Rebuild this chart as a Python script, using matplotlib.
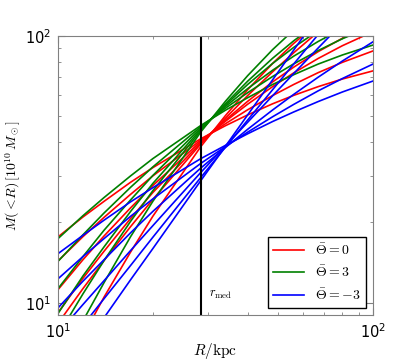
import matplotlib
matplotlib.use("Agg")
import matplotlib.pyplot as plt
from matplotlib.ticker import NullFormatter

plt.rcParams['mathtext.fontset'] = 'cm'
plt.rcParams['font.family'] = ['DejaVu Sans']

# radius grid (kpc)
R = [10, 12, 14, 17, 20, 28.4, 34, 40, 48, 56, 67, 80, 100]
r_med = 28.4

# M(<R) in 1e10 Msun, Theta = 0 (red)
red_curves = [
    [17.66, 20.97, 24.0, 28.3, 32.1, 41.2, 46.1, 50.6, 55.7, 59.9, 64.6, 69.0, 74.0],
    [14.35, 17.7, 20.9, 25.5, 29.9, 40.7, 46.9, 52.9, 59.8, 65.8, 72.9, 79.7, 87.9],
    [11.2, 14.5, 17.8, 22.7, 27.5, 40.3, 47.9, 55.5, 64.6, 72.7, 82.4, 92.0, 103.8],
    [9.18, 12.35, 15.6, 20.7, 25.9, 39.8, 48.4, 56.9, 67.3, 76.4, 87.4, 98.1, 110.9],
    [8.37, 11.3, 14.4, 19.3, 24.4, 39.4, 49.2, 59.8, 73.4, 86.5, 103.7, 122.5, 148.6],
    [4.95, 7.51, 10.5, 15.5, 21.1, 38.5, 50.3, 62.9, 78.9, 93.8, 112.1, 130.6, 153.1],
]
# Theta = 3 (green)
green_curves = [
    [17.4, 21.2, 24.8, 29.9, 34.7, 46.2, 52.7, 58.7, 65.8, 71.6, 78.5, 84.9, 92.5],
    [14.3, 17.98, 21.7, 27.1, 32.3, 45.7, 53.6, 61.3, 70.5, 78.6, 88.2, 97.7, 109.0],
    [11.3, 14.9, 18.7, 24.3, 30.0, 45.2, 54.4, 63.5, 74.4, 84.0, 95.4, 106.7, 120.0],
    [9.12, 12.6, 16.2, 22.0, 28.0, 44.7, 55.1, 65.8, 78.9, 90.6, 104.8, 118.9, 135.8],
    [7.56, 10.8, 14.4, 20.2, 26.3, 44.2, 55.7, 67.7, 82.5, 95.9, 112.2, 128.4, 148.0],
    [5.64, 8.56, 11.9, 17.7, 24.0, 43.7, 56.9, 71.0, 88.9, 105.3, 125.4, 145.4, 169.4],
]
# Theta = -3 (blue)
blue_curves = [
    [15.28, 17.9, 20.4, 23.9, 27.0, 34.7, 38.9, 43.0, 47.8, 51.9, 56.8, 61.7, 67.8],
    [12.3, 14.9, 17.4, 21.1, 24.5, 33.3, 38.5, 43.6, 49.8, 55.4, 62.3, 69.3, 78.5],
    [9.57, 12.05, 14.5, 18.3, 22.0, 32.0, 38.2, 44.7, 52.8, 60.4, 70.1, 80.6, 95.1],
    [7.69, 9.85, 12.1, 15.7, 19.45, 30.8, 38.7, 47.5, 59.7, 72.3, 90.2, 111.8, 146.0],
    [6.26, 8.23, 10.36, 13.8, 17.6, 29.5, 38.3, 48.4, 62.9, 78.5, 101.3, 130.2, 178.0],
    [5.0, 6.8, 8.79, 12.2, 15.96, 28.7, 38.6, 50.6, 68.5, 88.5, 119.3, 160.0, 232.0],
]
series = [
    (red_curves, 'red', r'$\bar{\Theta}=0$'),
    (green_curves, 'green', r'$\bar{\Theta}=3$'),
    (blue_curves, 'blue', r'$\bar{\Theta}=-3$'),
]

fig = plt.figure(figsize=(4.15, 3.63), dpi=100)
ax = fig.add_axes([58/415, 48/363, (373-58)/415, (315-36)/363])

for curves, col, lab in series:
    for i, c in enumerate(curves):
        ax.plot(R, c, color=col, lw=1.2, label=lab if i == 0 else None)

ax.axvline(r_med, color='black', lw=1.5)
ax.text(r_med * 1.06, 10.55, r'$r_{\rm med}$', fontsize=9)

ax.set_xscale('log')
ax.set_yscale('log')
ax.set_xlim(10, 100)
ax.set_ylim(9.0, 100)
ax.xaxis.set_minor_formatter(NullFormatter())
ax.yaxis.set_minor_formatter(NullFormatter())

for s in ax.spines.values():
    s.set_color('#808080')
ax.tick_params(which='both', direction='in', top=True, right=True,
               colors='#808080', labelcolor='black', labelsize=10.5)
ax.tick_params(which='major', length=5, pad=5)
ax.tick_params(which='minor', length=2.5)

ax.set_xlabel(r'$R/{\rm kpc}$', fontsize=11, labelpad=0)
ax.set_ylabel(r'$M(<\!R)\,[10^{10}\,M_\odot]$', fontsize=10, labelpad=1)

leg = ax.legend(loc='lower right', fontsize=10, fancybox=False, framealpha=1,
                edgecolor='black', handlelength=2.2, labelspacing=0.5,
                borderaxespad=0.5, handletextpad=0.8, borderpad=0.4)
leg.get_frame().set_linewidth(1.0)

fig.savefig('out.png', dpi=100)
